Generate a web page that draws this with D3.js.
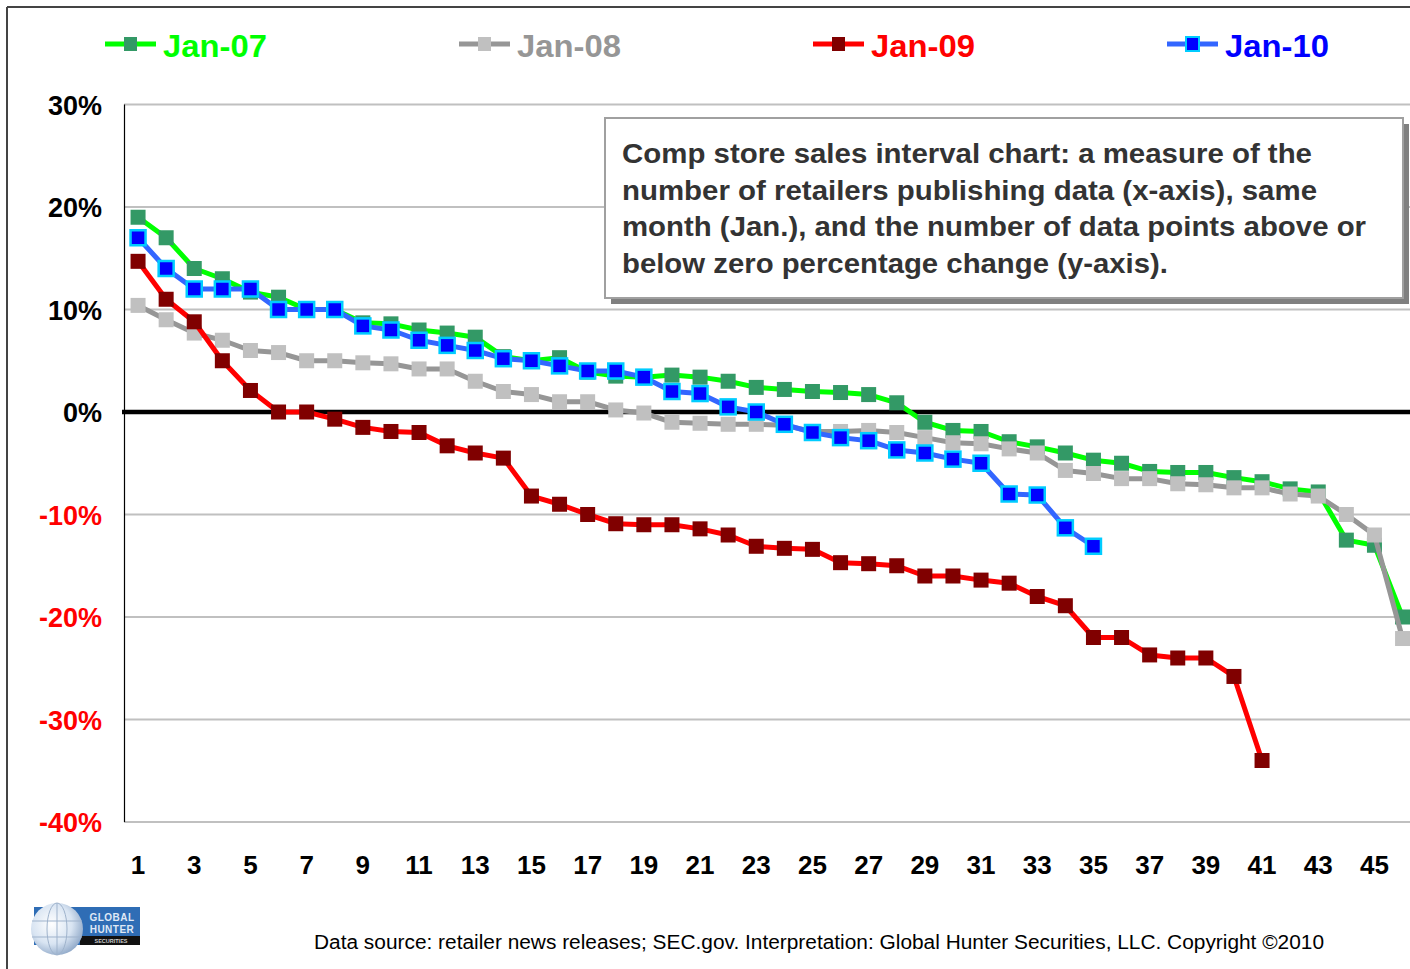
<!DOCTYPE html>
<html>
<head>
<meta charset="utf-8">
<script src="https://cdn.jsdelivr.net/npm/d3@7"></script>
<style>
html, body { margin: 0; padding: 0; background: #fff; }
svg { display: block; font-family: "Liberation Sans", Arial, sans-serif; }
</style>
</head>
<body>
<svg id="chart" width="1410" height="969"></svg>
<script>
// ---------- DATA ----------
const categories = d3.range(1, 47);
const tickLabels = d3.range(1, 46, 2);
const yTicks = [30, 20, 10, 0, -10, -20, -30, -40];
const seriesNames = ["Jan-07", "Jan-08", "Jan-09", "Jan-10"];

const jan07 = [19.0, 17.0, 14.0, 13.0, 11.7, 11.2, 10.0, 10.0, 8.7, 8.6, 8.0, 7.7, 7.3, 5.4, 5.0, 5.3, 3.9, 3.5, 3.4, 3.6, 3.4, 3.0, 2.4, 2.2, 2.0, 1.9, 1.7, 0.9, -1.0, -1.8, -1.9, -2.9, -3.4, -4.0, -4.7, -5.0, -5.8, -5.9, -5.9, -6.4, -6.8, -7.5, -7.8, -12.5, -13.0, -20.0];
const jan08 = [10.4, 9.0, 7.7, 7.0, 6.0, 5.8, 5.0, 5.0, 4.8, 4.7, 4.2, 4.2, 3.0, 2.0, 1.7, 1.0, 1.0, 0.2, -0.1, -1.0, -1.1, -1.2, -1.2, -1.3, -1.9, -1.9, -1.8, -2.0, -2.5, -3.0, -3.1, -3.6, -4.0, -5.7, -6.0, -6.5, -6.5, -7.0, -7.1, -7.4, -7.4, -8.0, -8.2, -10.0, -12.0, -22.1];
const jan09 = [14.7, 11.0, 8.8, 5.0, 2.1, 0.0, 0.0, -0.7, -1.5, -1.9, -2.0, -3.3, -4.0, -4.5, -8.2, -9.0, -10.0, -10.9, -11.0, -11.0, -11.4, -12.0, -13.1, -13.3, -13.4, -14.7, -14.8, -15.0, -16.0, -16.0, -16.4, -16.7, -18.0, -18.9, -22.0, -22.0, -23.7, -24.0, -24.0, -25.8, -34.0];
const jan10 = [17.0, 14.0, 12.0, 12.0, 12.0, 10.0, 10.0, 10.0, 8.4, 8.0, 7.0, 6.5, 6.0, 5.2, 5.0, 4.5, 4.0, 4.0, 3.4, 2.0, 1.8, 0.5, 0.0, -1.2, -2.0, -2.5, -2.8, -3.7, -4.0, -4.6, -5.0, -8.0, -8.1, -11.3, -13.1];

const noteLines = [
  "Comp store sales interval chart: a measure of the",
  "number of retailers publishing data (x-axis), same",
  "month (Jan.), and the number of data points above or",
  "below zero percentage change (y-axis)."
];
const footerText = "Data source: retailer news releases; SEC.gov. Interpretation: Global Hunter Securities, LLC. Copyright \u00A92010";

// ---------- STYLE ----------
const styles = [
  { line: "#00ff00", fill: "#339966", stroke: "none", text: "#00ff00" },
  { line: "#969696", fill: "#c0c0c0", stroke: "none", text: "#969696" },
  { line: "#ff0000", fill: "#800000", stroke: "none", text: "#ff0000" },
  { line: "#3366ff", fill: "#0000ff", stroke: "#00ccff", text: "#0000ff" }
];
const allSeries = [jan07, jan08, jan09, jan10];

const svg = d3.select("#chart");

// frame
svg.append("line").attr("x1", 7).attr("x2", 1410).attr("y1", 7).attr("y2", 7)
  .attr("stroke", "#444").attr("stroke-width", 2);
svg.append("line").attr("x1", 7).attr("x2", 7).attr("y1", 7).attr("y2", 969)
  .attr("stroke", "#444").attr("stroke-width", 2);

// scales
const x = d3.scaleBand().domain(categories).range([124, 124 + 46 * 28.1]).padding(0);
const cx = d => x(d) + x.bandwidth() / 2;
const y = d3.scaleLinear().domain([-40, 30]).range([822, 104.5]);

// gridlines
svg.append("g").selectAll("line").data(yTicks.filter(t => t !== 0)).join("line")
  .attr("x1", 124).attr("x2", 1417)
  .attr("y1", d => y(d)).attr("y2", d => y(d))
  .attr("stroke", "#c0c0c0").attr("stroke-width", 2);

// y axis line
svg.append("line").attr("x1", 124.5).attr("x2", 124.5).attr("y1", y(30)).attr("y2", y(-40))
  .attr("stroke", "#000").attr("stroke-width", 1.2);

// zero line
svg.append("line").attr("x1", 122).attr("x2", 1417).attr("y1", y(0)).attr("y2", y(0))
  .attr("stroke", "#000").attr("stroke-width", 4.5);

// y labels
svg.append("g").selectAll("text").data(yTicks).join("text")
  .attr("x", 102).attr("y", d => y(d) + 10)
  .attr("text-anchor", "end")
  .attr("font-size", 27).attr("font-weight", "bold")
  .attr("fill", d => d < 0 ? "#ff0000" : "#000")
  .text(d => d + "%");

// x labels
svg.append("g").selectAll("text").data(tickLabels).join("text")
  .attr("x", d => cx(d)).attr("y", 874)
  .attr("text-anchor", "middle")
  .attr("font-size", 26).attr("font-weight", "bold")
  .attr("fill", "#000")
  .text(d => d);

// text box with shadow
const bx = 605, by = 118, bw = 798, bh = 180;
svg.append("rect").attr("x", bx + 6).attr("y", by + 6).attr("width", bw).attr("height", bh)
  .attr("fill", "#808080");
svg.append("rect").attr("x", bx).attr("y", by).attr("width", bw).attr("height", bh)
  .attr("fill", "#fff").attr("stroke", "#a0a0a0").attr("stroke-width", 2);
const noteWidths = [690, 695, 744, 546];
svg.append("g").selectAll("text").data(noteLines).join("text")
  .attr("x", 622).attr("y", (d, i) => 163 + i * 36.7)
  .attr("font-size", 27).attr("font-weight", "bold").attr("fill", "#333")
  .attr("textLength", (d, i) => noteWidths[i]).attr("lengthAdjust", "spacingAndGlyphs")
  .text(d => d);

// series
const lineGen = d3.line().x((d, i) => cx(categories[i])).y(d => y(d));
allSeries.forEach((s, k) => {
  const st = styles[k];
  const g = svg.append("g");
  g.append("path").datum(s).attr("d", lineGen)
    .attr("fill", "none").attr("stroke", st.line).attr("stroke-width", 5)
    .attr("stroke-linejoin", "round");
  const sz = 15;
  g.selectAll("rect").data(s).join("rect")
    .attr("x", (d, i) => cx(categories[i]) - sz / 2)
    .attr("y", d => y(d) - sz / 2)
    .attr("width", sz).attr("height", sz)
    .attr("fill", st.fill)
    .attr("stroke", st.stroke).attr("stroke-width", st.stroke === "none" ? 0 : 2.5);
});

// legend
const legX = [105, 459, 813, 1167];
seriesNames.forEach((name, k) => {
  const st = styles[k];
  const g = svg.append("g").attr("transform", `translate(${legX[k]},44)`);
  g.append("line").attr("x1", 0).attr("x2", 51).attr("y1", 0).attr("y2", 0)
    .attr("stroke", st.line).attr("stroke-width", 5);
  g.append("rect").attr("x", 19).attr("y", -7).attr("width", 13).attr("height", 14)
    .attr("fill", st.fill).attr("stroke", st.stroke).attr("stroke-width", st.stroke === "none" ? 0 : 2);
  g.append("text").attr("x", 58).attr("y", 13)
    .attr("font-size", 32).attr("font-weight", "bold").attr("fill", st.text)
    .attr("textLength", 104).attr("lengthAdjust", "spacingAndGlyphs")
    .text(name);
});

// footer
svg.append("text").attr("x", 314).attr("y", 949)
  .attr("font-size", 20).attr("fill", "#000")
  .attr("textLength", 1010).attr("lengthAdjust", "spacingAndGlyphs")
  .text(footerText);

// logo
const logo = svg.append("g");
const defs = svg.append("defs");
const grad = defs.append("radialGradient").attr("id", "globe").attr("cx", "40%").attr("cy", "40%").attr("r", "65%");
grad.append("stop").attr("offset", "0%").attr("stop-color", "#ffffff");
grad.append("stop").attr("offset", "60%").attr("stop-color", "#d8e4f2");
grad.append("stop").attr("offset", "100%").attr("stop-color", "#8fa8c8");
logo.append("rect").attr("x", 34).attr("y", 907).attr("width", 106).attr("height", 38).attr("fill", "#2f6db5");
logo.append("rect").attr("x", 80).attr("y", 936).attr("width", 60).attr("height", 9).attr("fill", "#111");
logo.append("circle").attr("cx", 57).attr("cy", 929).attr("r", 26).attr("fill", "url(#globe)");
const gl = logo.append("g").attr("stroke", "#9fb3cc").attr("stroke-width", 1).attr("fill", "none");
gl.append("ellipse").attr("cx", 57).attr("cy", 929).attr("rx", 10).attr("ry", 26);
gl.append("line").attr("x1", 57).attr("x2", 57).attr("y1", 903).attr("y2", 955);
gl.append("line").attr("x1", 32).attr("x2", 82).attr("y1", 921).attr("y2", 921);
gl.append("line").attr("x1", 32).attr("x2", 82).attr("y1", 937).attr("y2", 937);
logo.append("text").attr("x", 112).attr("y", 921).attr("text-anchor", "middle")
  .attr("font-size", 10).attr("font-weight", "bold").attr("fill", "#dfe8f5").attr("letter-spacing", 0.5).text("GLOBAL");
logo.append("text").attr("x", 112).attr("y", 933).attr("text-anchor", "middle")
  .attr("font-size", 10).attr("font-weight", "bold").attr("fill", "#dfe8f5").attr("letter-spacing", 0.5).text("HUNTER");
logo.append("text").attr("x", 111).attr("y", 943).attr("text-anchor", "middle")
  .attr("font-size", 5.5).attr("font-weight", "bold").attr("fill", "#ccc").text("SECURITIES");
</script>
</body>
</html>
